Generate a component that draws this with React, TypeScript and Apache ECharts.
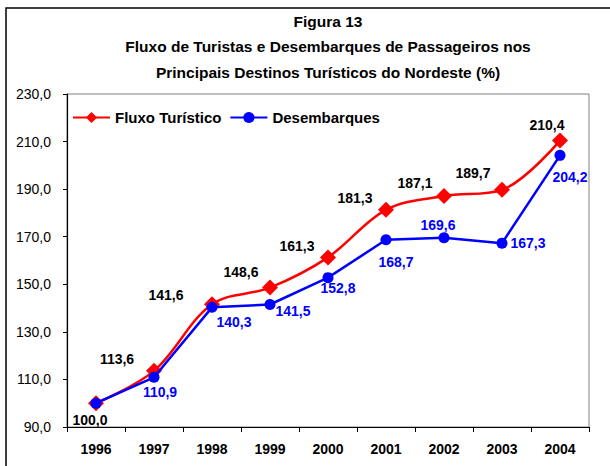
import React, { useEffect, useRef } from "react";
import * as echarts from "echarts";

const years = ["1996", "1997", "1998", "1999", "2000", "2001", "2002", "2003", "2004"];
const fluxoTuristico = [100.0, 113.6, 141.6, 148.6, 161.3, 181.3, 187.1, 189.7, 210.4];
const desembarques = [100.0, 110.9, 140.3, 141.5, 152.8, 168.7, 169.6, 167.3, 204.2];
const titleLines = [
  "Figura 13",
  "Fluxo de Turistas e Desembarques de Passageiros nos",
  "Principais Destinos Turísticos do Nordeste (%)",
];

// label placement (layout only)
const fluxoLabelOffsets: [number, number][] = [
  [-6, 17], [-37, -12], [-46, -9], [-29, -16], [-31, -11], [-31, -12], [-29, -13], [-29, -17], [-13, -16],
];
const desembLabelOffsets: ([number, number] | null)[] = [
  null, [6, 15], [22, 15], [23, 6], [10, 10], [10, 22], [-6, -13], [26, 0], [10, 22],
];

const fmt = (v: number) => v.toFixed(1).replace(".", ",");
const FONT = "'Liberation Sans', Arial, sans-serif";

export default function App() {
  const ref = useRef<HTMLDivElement>(null);
  useEffect(() => {
    document.body.style.margin = "0";
    const chart = echarts.init(ref.current!, null, { renderer: "svg" });
    const labelBase = {
      show: true,
      position: "inside",
      fontFamily: FONT,
      fontSize: 14,
      fontWeight: "bold",
      align: "center",
      verticalAlign: "middle",
    };
    chart.setOption({
      animation: false,
      backgroundColor: "#ffffff",
      textStyle: { fontFamily: FONT },
      graphic: [
        {
          type: "rect",
          shape: { x: 6, y: 8, width: 700, height: 600 },
          style: { fill: "none", stroke: "#000", lineWidth: 1.5 },
          silent: true,
          z: -10,
        },
        ...titleLines.map((t, i) => ({
          type: "text",
          x: 328,
          y: 21 + i * 25.5,
          style: {
            text: t,
            fontFamily: FONT,
            fontSize: 15.5,
            fontWeight: "bold",
            fill: "#000",
            textAlign: "center",
            textVerticalAlign: "middle",
          },
        })),
      ],
      legend: {
        left: 67,
        top: 105,
        itemWidth: 37,
        itemHeight: 14,
        itemGap: 8,
        textStyle: { fontFamily: FONT, fontSize: 15, fontWeight: "bold", color: "#000" },
        data: ["Fluxo Turístico", "Desembarques"],
      },
      grid: {
        left: 67,
        right: 21,
        top: 94,
        bottom: 39,
        show: true,
        borderColor: "#808080",
        borderWidth: 1,
      },
      xAxis: {
        type: "category",
        data: years,
        boundaryGap: true,
        axisLine: { lineStyle: { color: "#000", width: 1.2 } },
        axisTick: { show: true, length: 5, lineStyle: { color: "#000" } },
        axisLabel: {
          color: "#000",
          fontFamily: FONT,
          fontSize: 14,
          fontWeight: "bold",
          margin: 15,
        },
      },
      yAxis: {
        type: "value",
        min: 90,
        max: 230,
        interval: 20,
        axisLine: { show: true, lineStyle: { color: "#000", width: 1.2 } },
        axisTick: { show: true, length: 4, lineStyle: { color: "#000" } },
        splitLine: { show: false },
        axisLabel: {
          color: "#000",
          fontFamily: FONT,
          fontSize: 14,
          margin: 16,
          formatter: (v: number) => fmt(v),
        },
      },
      series: [
        {
          name: "Fluxo Turístico",
          type: "line",
          smooth: 0.35,
          symbol: "diamond",
          symbolSize: 16,
          color: "#ff0000",
          lineStyle: { color: "#ff0000", width: 2.5 },
          itemStyle: { color: "#ff0000" },
          data: fluxoTuristico.map((v, i) => ({
            value: v,
            label: { ...labelBase, color: "#000", offset: fluxoLabelOffsets[i], formatter: () => fmt(v) },
          })),
          z: 2,
        },
        {
          name: "Desembarques",
          type: "line",
          smooth: false,
          symbol: "circle",
          symbolSize: 11,
          color: "#0000ff",
          lineStyle: { color: "#0000ff", width: 2.5 },
          itemStyle: { color: "#0000ff" },
          data: desembarques.map((v, i) => ({
            value: v,
            label: desembLabelOffsets[i]
              ? { ...labelBase, color: "#0000ff", offset: desembLabelOffsets[i], formatter: () => fmt(v) }
              : { show: false },
          })),
          z: 3,
        },
      ],
    });
    return () => chart.dispose();
  }, []);
  return <div ref={ref} style={{ width: 610, height: 466 }} />;
}
